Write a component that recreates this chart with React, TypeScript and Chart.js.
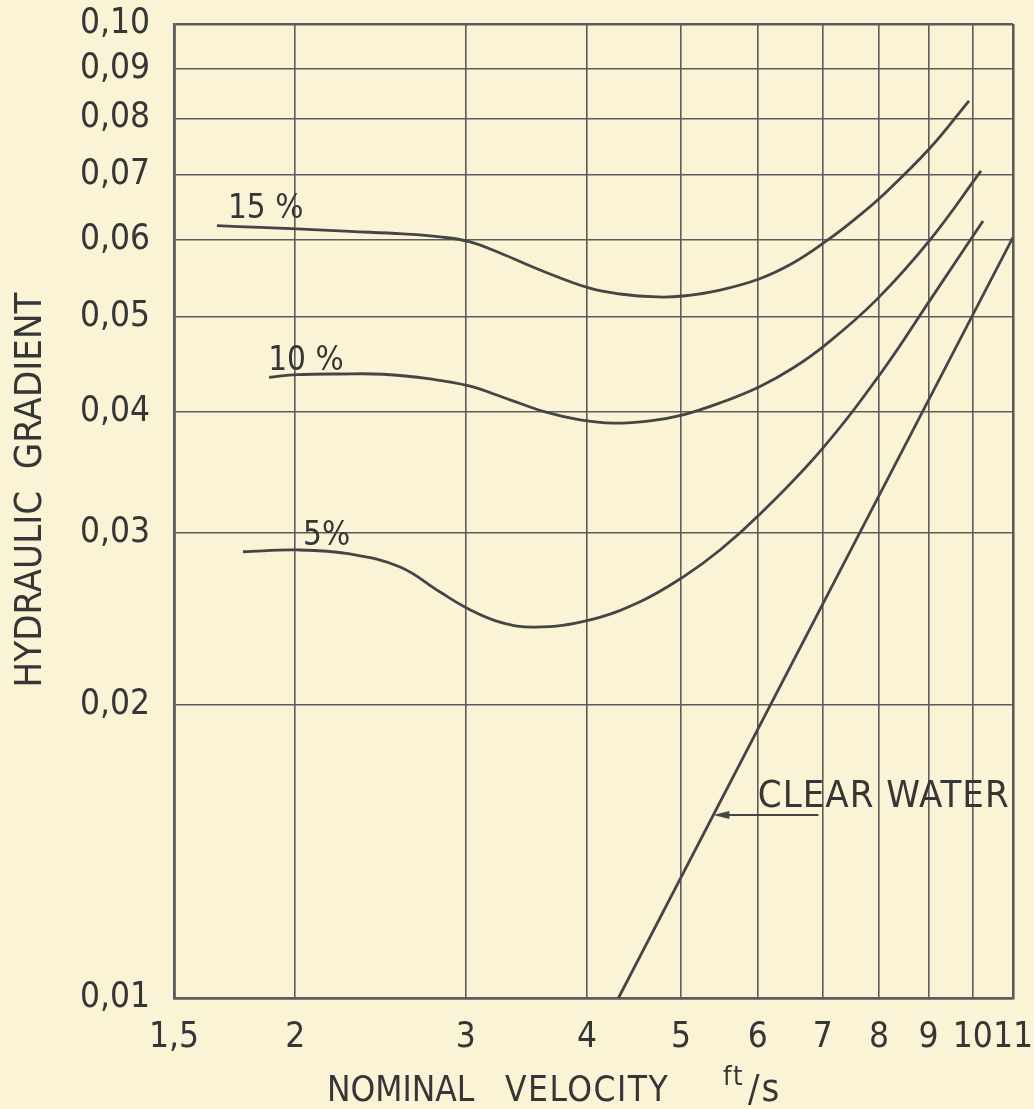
import React, { useEffect, useRef } from "react";
import { Chart, registerables } from "chart.js";

Chart.register(...registerables);

// ---------- data ----------
const X_TICKS = [1.5, 2, 3, 4, 5, 6, 7, 8, 9, 10, 11];
const X_TICK_LABELS = ["1,5", "2", "3", "4", "5", "6", "7", "8", "9", "10", "11"];
const Y_TICKS = [0.01, 0.02, 0.03, 0.04, 0.05, 0.06, 0.07, 0.08, 0.09, 0.1];
const Y_TICK_LABELS = ["0,01", "0,02", "0,03", "0,04", "0,05", "0,06", "0,07", "0,08", "0,09", "0,10"];

const V_15 = [1.661, 1.84, 2.009, 2.278, 2.584, 2.822, 3.023, 3.253, 3.578, 4.019, 4.326, 4.724, 5.024, 5.486, 6.018, 6.524, 7.057, 7.558, 8.08, 9.033, 9.909];
const J_15 = [0.06208, 0.06182, 0.0616, 0.06124, 0.06088, 0.06045, 0.05978, 0.0582, 0.05591, 0.05358, 0.05282, 0.05245, 0.05257, 0.05332, 0.05473, 0.05684, 0.05985, 0.06306, 0.06675, 0.07458, 0.08337];

const V_10 = [1.88, 2.009, 2.225, 2.464, 2.755, 3.023, 3.332, 3.621, 3.935, 4.254, 4.646, 5.024, 5.486, 6.018, 6.524, 7.057, 7.947, 9.033, 10.195];
const J_10 = [0.04338, 0.04365, 0.04372, 0.04369, 0.04321, 0.0425, 0.04112, 0.03997, 0.03922, 0.03892, 0.03913, 0.03969, 0.04083, 0.0424, 0.04434, 0.04689, 0.05206, 0.06003, 0.07066];

const V_5 = [1.767, 2.009, 2.278, 2.566, 2.822, 3.023, 3.253, 3.535, 4.019, 4.537, 5.024, 5.486, 6.018, 6.974, 8.08, 9.033, 10.244];
const J_5 = [0.02872, 0.02884, 0.02857, 0.0277, 0.02611, 0.02507, 0.02432, 0.02403, 0.02443, 0.02552, 0.02705, 0.02884, 0.03132, 0.03652, 0.04413, 0.05206, 0.06277];

const V_WATER = [4.31, 11];
const J_WATER = [0.01, 0.0604];

// curve labels: [text, velocity, gradient]
const CURVE_LABELS: [string, number, number][] = [
  ["15 %", 1.705, 0.0632],
  ["10 %", 1.876, 0.0441],
  ["5%", 2.038, 0.0292],
];
const WATER_LABEL: [string, number, number] = ["CLEAR WATER", 6.0, 0.0157];
const WATER_ARROW_FROM: [number, number] = [6.93, 0.01541];
const WATER_ARROW_TO: [number, number] = [5.4, 0.01541];

const X_TITLE_WORDS = ["NOMINAL", "VELOCITY"];
const Y_TITLE = "HYDRAULIC  GRADIENT";
const UNIT_TOP = "ft";
const UNIT_BOTTOM = "/s";

// ---------- styles ----------
const BG = "#fbf3d6";
const INK = "#363636";
const GRID = "#5c5c5c";
const CURVE = "#454545";
const FAMILY = "'DejaVu Sans Condensed', 'DejaVu Sans', sans-serif";
const W = 1034;
const H = 1109;

const pts = (xs: number[], ys: number[]) => xs.map((x, i) => ({ x, y: ys[i] }));

const bgPlugin = {
  id: "bg",
  beforeDraw(chart: any) {
    const ctx = chart.ctx;
    ctx.save();
    ctx.fillStyle = BG;
    ctx.fillRect(0, 0, chart.width, chart.height);
    ctx.restore();
  },
};

const setSpacing = (ctx: any, px: number) => {
  if ("letterSpacing" in ctx) ctx.letterSpacing = `${px}px`;
};

const textPlugin = {
  id: "texts",
  afterDraw(chart: any) {
    const ctx = chart.ctx;
    const xs = chart.scales.x;
    const ys = chart.scales.y;
    ctx.save();
    ctx.fillStyle = INK;
    ctx.strokeStyle = CURVE;
    ctx.textAlign = "left";
    ctx.textBaseline = "alphabetic";

    ctx.font = `33px ${FAMILY}`;
    for (const [t, vx, vy] of CURVE_LABELS) {
      ctx.fillText(t, xs.getPixelForValue(vx), ys.getPixelForValue(vy));
    }
    ctx.font = `38px ${FAMILY}`;
    setSpacing(ctx, 1);
    ctx.fillText(WATER_LABEL[0], xs.getPixelForValue(WATER_LABEL[1]), ys.getPixelForValue(WATER_LABEL[2]));
    setSpacing(ctx, 0);

    // arrow
    const ax0 = xs.getPixelForValue(WATER_ARROW_FROM[0]);
    const ay0 = ys.getPixelForValue(WATER_ARROW_FROM[1]);
    const ax1 = xs.getPixelForValue(WATER_ARROW_TO[0]);
    const ay1 = ys.getPixelForValue(WATER_ARROW_TO[1]);
    ctx.lineWidth = 2;
    ctx.beginPath();
    ctx.moveTo(ax0, ay0);
    ctx.lineTo(ax1 + 10, ay1);
    ctx.stroke();
    ctx.fillStyle = CURVE;
    ctx.beginPath();
    ctx.moveTo(ax1, ay1);
    ctx.lineTo(ax1 + 16, ay1 - 4);
    ctx.lineTo(ax1 + 16, ay1 + 4);
    ctx.closePath();
    ctx.fill();

    // axis titles
    ctx.fillStyle = INK;
    ctx.font = `35px ${FAMILY}`;
    ctx.fillText(X_TITLE_WORDS[0], 327, 1101);
    setSpacing(ctx, 1.5);
    ctx.fillText(X_TITLE_WORDS[1], 505, 1101);
    ctx.font = `27px ${FAMILY}`;
    setSpacing(ctx, 2);
    ctx.fillText(UNIT_TOP, 723, 1085);
    ctx.font = `38px ${FAMILY}`;
    setSpacing(ctx, 2);
    ctx.fillText(UNIT_BOTTOM, 748, 1101);
    setSpacing(ctx, 0);

    ctx.save();
    ctx.translate(41, 490);
    ctx.rotate(-Math.PI / 2);
    ctx.textAlign = "center";
    ctx.font = `38px ${FAMILY}`;
    ctx.fillText(Y_TITLE, 0, 0);
    ctx.restore();

    ctx.restore();
  },
};

export default function App() {
  const ref = useRef<HTMLCanvasElement>(null);

  useEffect(() => {
    const canvas = ref.current!;
    const lineDs = (data: any[]) => ({
      data,
      borderColor: CURVE,
      borderWidth: 2.8,
      pointRadius: 0,
      fill: false,
      tension: 0.4,
    });
    const chart = new Chart(canvas, {
      type: "line",
      data: {
        datasets: [
          { label: "15 %", ...lineDs(pts(V_15, J_15)) },
          { label: "10 %", ...lineDs(pts(V_10, J_10)) },
          { label: "5 %", ...lineDs(pts(V_5, J_5)) },
          { label: "Clear water", ...lineDs(pts(V_WATER, J_WATER)), tension: 0 },
        ],
      },
      options: {
        responsive: false,
        animation: false,
        devicePixelRatio: 1,
        layout: { padding: { top: 24, right: 21, left: 0, bottom: 0 } },
        plugins: { legend: { display: false }, tooltip: { enabled: false }, title: { display: false } },
        scales: {
          x: {
            type: "logarithmic",
            min: 1.5,
            max: 11,
            afterBuildTicks: (s: any) => {
              s.ticks = X_TICKS.map((v) => ({ value: v }));
            },
            afterFit: (s: any) => {
              s.height = 111;
              s.paddingLeft = 0;
              s.paddingRight = 0;
            },
            ticks: {
              autoSkip: false,
              maxRotation: 0,
              minRotation: 0,
              padding: 19,
              color: INK,
              font: { family: FAMILY, size: 35 },
              callback: (v: any) => {
                const i = X_TICKS.indexOf(Number(v));
                return i >= 0 ? X_TICK_LABELS[i] : "";
              },
            },
            grid: {
              color: GRID,
              drawTicks: false,
              lineWidth: (c: any) => (c.tick && (c.tick.value === 11 || c.tick.value === 1.5) ? 2.6 : 1.6),
            },
            border: { display: true, color: GRID, width: 2.6 },
          },
          y: {
            type: "logarithmic",
            min: 0.01,
            max: 0.1,
            afterBuildTicks: (s: any) => {
              s.ticks = Y_TICKS.map((v) => ({ value: v }));
            },
            afterFit: (s: any) => {
              s.width = 174;
              s.paddingTop = 0;
              s.paddingBottom = 0;
            },
            ticks: {
              autoSkip: false,
              padding: 24,
              color: INK,
              font: { family: FAMILY, size: 35 },
              callback: (v: any) => {
                const i = Y_TICKS.findIndex((t) => Math.abs(t - Number(v)) < 1e-9);
                return i >= 0 ? Y_TICK_LABELS[i] : "";
              },
            },
            grid: {
              color: GRID,
              drawTicks: false,
              lineWidth: (c: any) => (c.tick && (Math.abs(c.tick.value - 0.1) < 1e-9 || Math.abs(c.tick.value - 0.01) < 1e-9) ? 2.6 : 1.6),
            },
            border: { display: true, color: GRID, width: 2.6 },
          },
        },
      },
      plugins: [bgPlugin, textPlugin],
    });
    return () => chart.destroy();
  }, []);

  return (
    <div style={{ position: "fixed", left: 0, top: 0, width: W, height: H, background: BG }}>
      <canvas ref={ref} width={W} height={H} style={{ display: "block", width: W, height: H }} />
    </div>
  );
}
